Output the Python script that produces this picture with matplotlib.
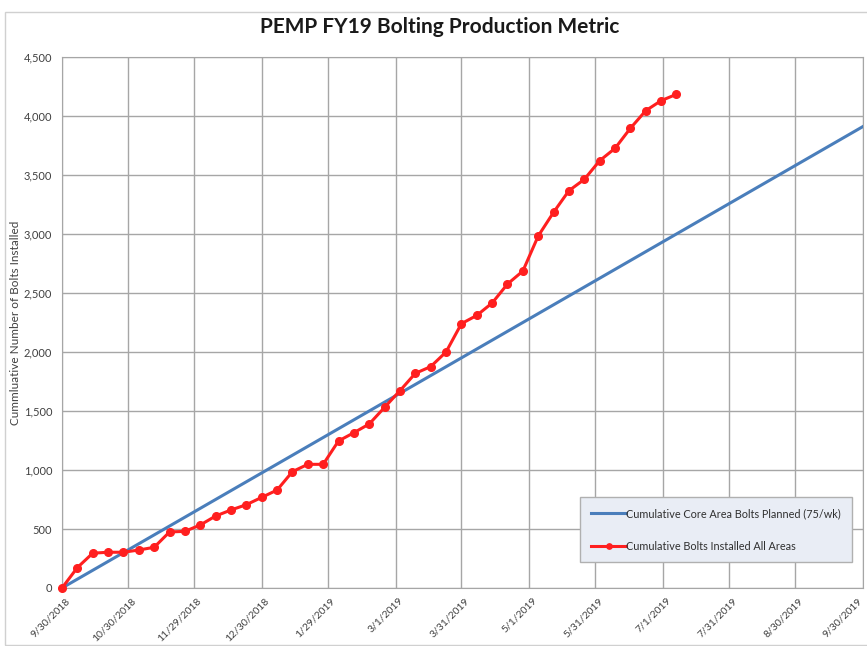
import numpy as np
import pandas as pd
import matplotlib
matplotlib.use('Agg')
import matplotlib.pyplot as plt
import matplotlib.transforms as mtransforms
from matplotlib.patches import Rectangle

# planned line: 75 bolts per week over the fiscal year
plan_dates = pd.to_datetime(['2018-09-30', '2019-09-30'])
plan_values = [0, 3911]

# installed, weekly snapshots starting 9/30/2018
installed_start = '2018-09-30'
installed_values = [0, 173, 295, 303, 303, 322, 345, 475, 480, 534,
                    610, 661, 706, 768, 830, 986, 1048, 1048, 1246, 1316,
                    1390, 1531, 1672, 1819, 1876, 2000, 2240, 2310, 2415, 2576,
                    2686, 2983, 3184, 3367, 3463, 3621, 3726, 3896, 4045, 4130,
                    4184]
installed_dates = pd.date_range(installed_start, periods=len(installed_values), freq='7D')

tick_labels = ['9/30/2018', '10/30/2018', '11/29/2018', '12/30/2018', '1/29/2019',
               '3/1/2019', '3/31/2019', '5/1/2019', '5/31/2019', '7/1/2019',
               '7/31/2019', '8/30/2019', '9/30/2019']
tick_dates = pd.to_datetime(tick_labels, format='%m/%d/%Y')
y_ticks = np.arange(0, 4501, 500)

plt.rcParams['font.family'] = ['Lato', 'DejaVu Sans']

fig = plt.figure(figsize=(8.67, 6.46), dpi=100)
fig.patches.append(Rectangle((5 / 867, 1 / 646), 1.2, 1 - 13 / 646, transform=fig.transFigure,
                             fill=False, edgecolor='#d0d0d0', linewidth=1))
ax = fig.add_axes([62 / 867, 1 - 588 / 646, 801 / 867, 531 / 646])

ax.plot(plan_dates, plan_values, color='#4a7ebb', linewidth=2.2,
        label='Cumulative Core Area Bolts Planned (75/wk)', zorder=3)
ax.plot(installed_dates, installed_values, color='#ff1f1f', linewidth=2.2, marker='o',
        markersize=5.5, label='Cumulative Bolts Installed All Areas', zorder=4, clip_on=False)

ax.set_xlim(tick_dates[0], tick_dates[-1])
ax.set_ylim(0, 4500)
ax.set_xticks(tick_dates)
ax.set_xticklabels([])

# rotated date labels, ends tucked under each gridline (last one pulled in from the edge)
base = mtransforms.blended_transform_factory(ax.transData, ax.transAxes)
for i, (d, lab) in enumerate(zip(tick_dates, tick_labels)):
    dx = -6 if i == len(tick_labels) - 1 else 3
    off = mtransforms.ScaledTranslation(dx / 100, -8 / 100, fig.dpi_scale_trans)
    ax.text(d, 0, lab, transform=base + off, rotation=45, ha='right', va='top',
            rotation_mode='anchor', fontsize=7.5, color='#404040', clip_on=False)

ax.set_yticks(y_ticks)
ax.set_yticklabels([f'{v:,}' for v in y_ticks], fontsize=8, color='#404040')
ax.tick_params(length=0, pad=7)
ax.grid(True, color='#a6a6a6', linewidth=1)
ax.set_axisbelow(True)
for s in ax.spines.values():
    s.set_color('#a6a6a6')

ax.set_ylabel('Cummluative Number of Bolts Installed', fontsize=8.5, color='#404040')
ax.yaxis.set_label_coords(-41 / 801, 0.5)
fig.text(440 / 867, 1 - 27 / 646, 'PEMP FY19 Bolting Production Metric', ha='center', va='center',
         fontsize=15, fontweight='bold', color='#1a1a1a')

leg = ax.legend(loc='lower right', bbox_to_anchor=(0.9925, 0.038), fontsize=7.8,
                labelspacing=2.0, handlelength=3.2, handletextpad=0.0, borderpad=1.0,
                fancybox=False, framealpha=1, markerscale=0.7)
leg.get_frame().set_facecolor('#e9edf5')
leg.get_frame().set_edgecolor('#b0b0b0')
for t in leg.get_texts():
    t.set_color('#303030')

fig.savefig('out.png', dpi=100)
